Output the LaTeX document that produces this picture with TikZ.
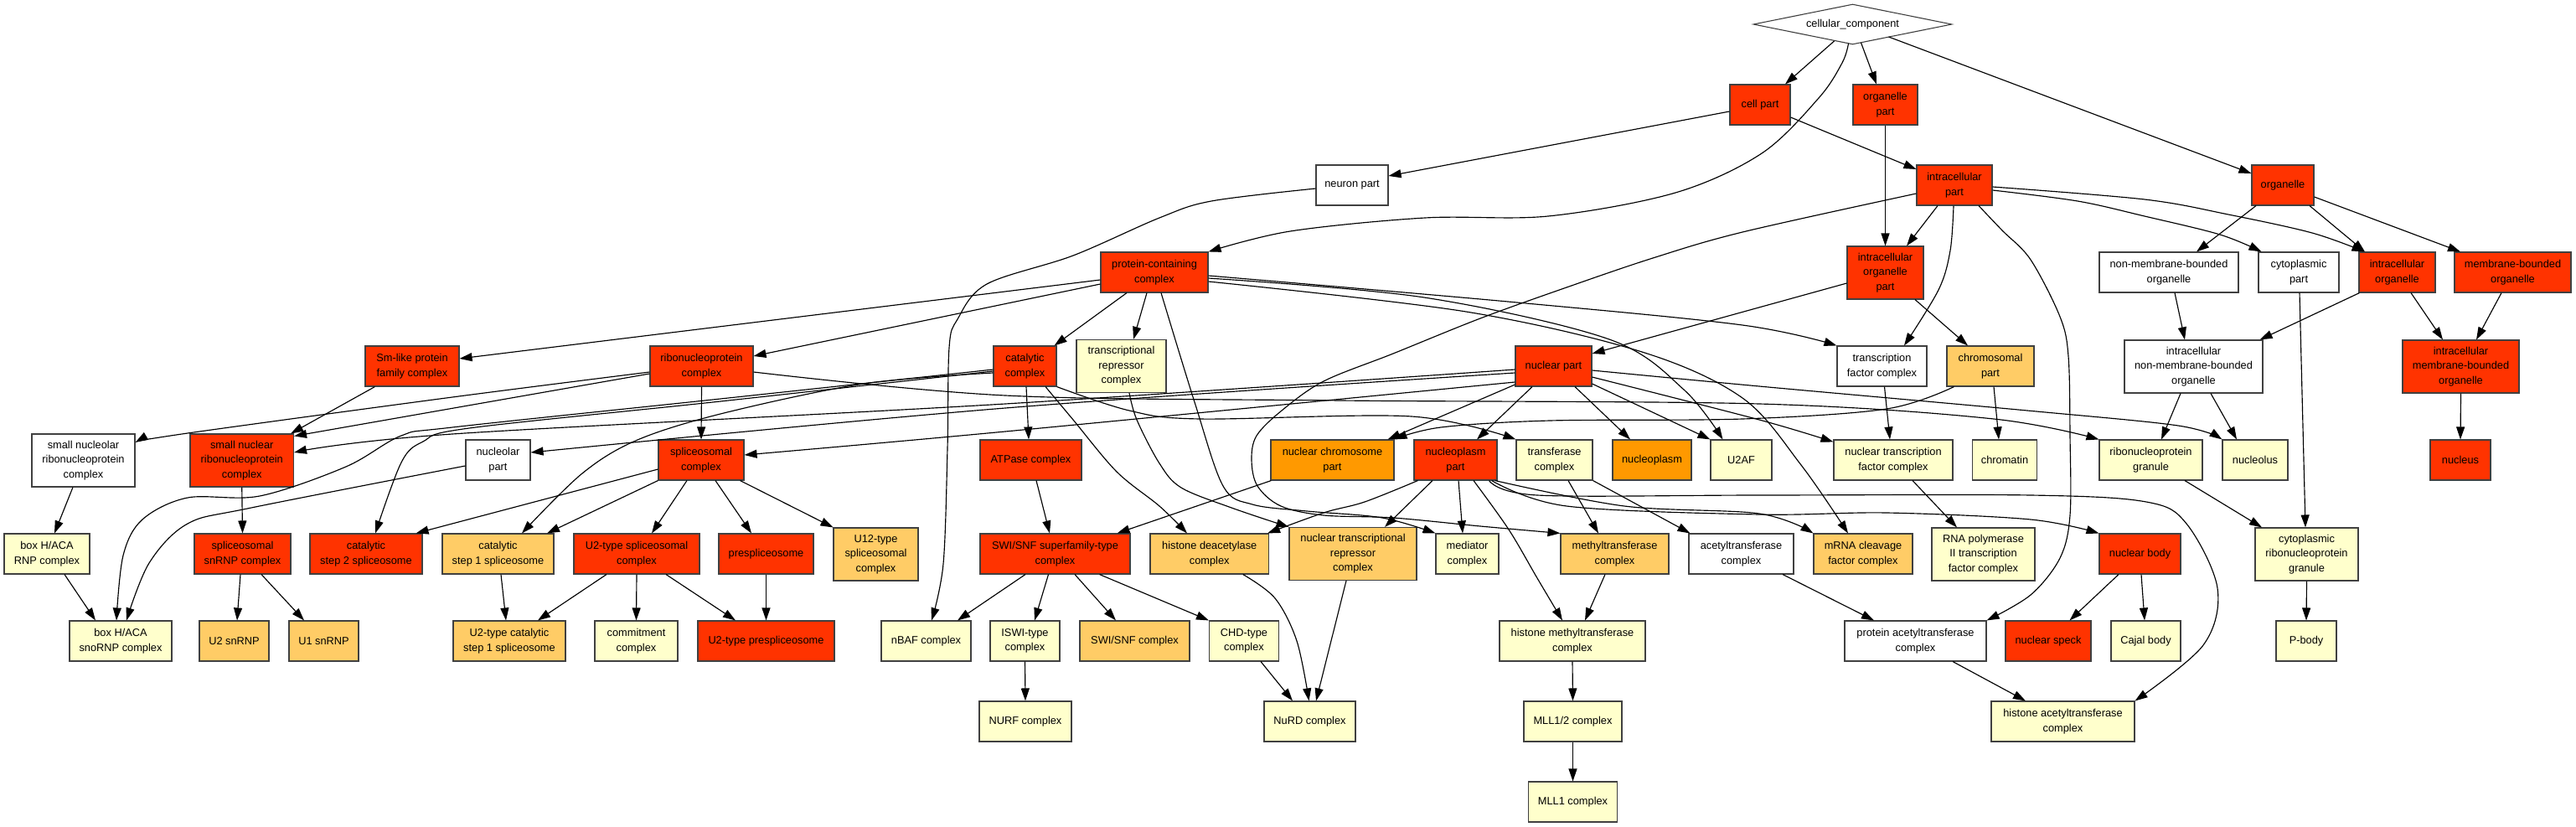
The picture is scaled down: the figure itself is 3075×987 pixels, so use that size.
\documentclass[tikz,border=0pt]{standalone}
\usepackage{fontspec}
\setmainfont{Liberation Sans}
\usetikzlibrary{shapes.geometric,arrows.meta}
\definecolor{cR}{HTML}{FF3300}
\definecolor{cO}{HTML}{FF9900}
\definecolor{cL}{HTML}{FFCC66}
\definecolor{cY}{HTML}{FFFFCC}
\begin{document}
\begin{tikzpicture}[x=1pt,y=-1pt,
  box/.style={draw=black!75, line width=1.1pt, inner sep=0pt, align=center, font=\fontsize{12.8}{17.5}\selectfont, minimum height=48pt},
  fr/.style={box, fill=cR}, fo/.style={box, fill=cO}, fl/.style={box, fill=cL},
  fy/.style={box, fill=cY}, fw/.style={box, fill=white},
  tall/.style={minimum height=63pt},
  edge/.style={line width=1.15pt, -{Triangle[length=15pt,width=10pt]}},
  sm/.style={smooth, tension=0.55}]
\useasboundingbox (0,0) rectangle (3075,987);
\fill[white] (0,0) rectangle (3075,987);
% row 0
\node[draw=black!75, line width=1.1pt, fill=white, diamond, aspect=4.9, inner sep=0pt, minimum width=237pt, minimum height=48pt, font=\fontsize{12.8}{17.5}\selectfont] (cc) at (2211.5,29) {cellular\_component};
% row 1
\node[fr, minimum width=72pt] (cp) at (2101,125) {cell part};
\node[fr, minimum width=77pt] (op) at (2250.5,125) {organelle\\part};
% row 2
\node[fw, minimum width=86pt] (np) at (1614,221) {neuron part};
\node[fr, minimum width=90pt] (icp) at (2333,221) {intracellular\\part};
\node[fr, minimum width=74pt] (org) at (2725,221) {organelle};
% row 3
\node[fr, minimum width=128pt] (pcc) at (1378,325) {protein-containing\\complex};
\node[fr, tall, minimum width=91pt] (iop) at (2250.5,325.5) {intracellular\\organelle\\part};
\node[fw, minimum width=166pt] (nmbo) at (2589,325) {non-membrane-bounded\\organelle};
\node[fw, minimum width=96pt] (cytp) at (2744,325) {cytoplasmic\\part};
\node[fr, minimum width=91pt] (io) at (2861.5,325) {intracellular\\organelle};
\node[fr, minimum width=139pt] (mbo) at (2999.5,325) {membrane-bounded\\organelle};
% row 4
\node[fr, minimum width=112pt] (sml) at (492,437) {Sm-like protein\\family complex};
\node[fr, minimum width=123pt] (rnp) at (837.5,437) {ribonucleoprotein\\complex};
\node[fr, minimum width=75pt] (catc) at (1223.5,437) {catalytic\\complex};
\node[fy, tall, minimum width=107pt] (trc) at (1338.5,437) {transcriptional\\repressor\\complex};
\node[fr, minimum width=91pt] (nucp) at (1854.5,437) {nuclear part};
\node[fw, minimum width=107pt] (tfc) at (2246.5,437) {transcription\\factor complex};
\node[fl, minimum width=104pt] (chrp) at (2376,437) {chromosomal\\part};
\node[fw, tall, minimum width=165pt] (inmbo) at (2618.5,437.5) {intracellular\\non-membrane-bounded\\organelle};
\node[fr, tall, minimum width=139pt] (imbo) at (2937.5,437.5) {intracellular\\membrane-bounded\\organelle};
% row 5
\node[fw, tall, minimum width=123pt] (snorc) at (99.5,549.5) {small nucleolar\\ribonucleoprotein\\complex};
\node[fr, tall, minimum width=123.5pt] (snrnp) at (288.75,549.5) {small nuclear\\ribonucleoprotein\\complex};
\node[fw, minimum width=77pt] (nolp) at (594.5,549) {nucleolar\\part};
\node[fr, minimum width=102pt] (splc) at (837,549) {spliceosomal\\complex};
\node[fr, minimum width=121pt] (atp) at (1230.5,549) {ATPase complex};
\node[fo, minimum width=147pt] (ncp) at (1590.5,549) {nuclear chromosome\\part};
\node[fr, minimum width=99pt] (nplp) at (1737.5,549) {nucleoplasm\\part};
\node[fy, minimum width=91pt] (trfc) at (1855.5,549) {transferase\\complex};
\node[fo, minimum width=94pt] (npl) at (1972,549) {nucleoplasm};
\node[fy, minimum width=73pt] (u2af) at (2078.5,549) {U2AF};
\node[fy, minimum width=142pt] (ntfc) at (2260,549) {nuclear transcription\\factor complex};
\node[fy, minimum width=77.5pt] (chromatin) at (2393,549) {chromatin};
\node[fy, minimum width=123pt] (rnpg) at (2567.5,549) {ribonucleoprotein\\granule};
\node[fy, minimum width=78pt] (nol) at (2692,549) {nucleolus};
\node[fr, minimum width=72pt] (nuc) at (2937,549) {nucleus};
% row 6
\node[fy, minimum width=102pt] (haca) at (56,661) {box H/ACA\\RNP complex};
\node[fr, minimum width=115pt] (ssnrnp) at (289.5,661) {spliceosomal\\snRNP complex};
\node[fr, minimum width=134pt] (cs2) at (437,661) {catalytic\\step 2 spliceosome};
\node[fl, minimum width=133pt] (cs1) at (594.5,661) {catalytic\\step 1 spliceosome};
\node[fr, minimum width=150pt] (u2sc) at (760,661) {U2-type spliceosomal\\complex};
\node[fr, minimum width=113pt] (presp) at (914.5,661) {prespliceosome};
\node[fl, tall, minimum width=101pt] (u12) at (1045.5,661.5) {U12-type\\spliceosomal\\complex};
\node[fr, minimum width=179pt] (swisf) at (1259.5,661) {SWI/SNF superfamily-type\\complex};
\node[fl, minimum width=141.5pt] (hdac) at (1443.75,661) {histone deacetylase\\complex};
\node[fl, tall, minimum width=152pt] (ntrc) at (1615,661) {nuclear transcriptional\\repressor\\complex};
\node[fy, minimum width=75pt] (med) at (1751.5,661) {mediator\\complex};
\node[fl, minimum width=129pt] (mtc) at (1927.5,661) {methyltransferase\\complex};
\node[fw, minimum width=125pt] (atc) at (2078.5,661) {acetyltransferase\\complex};
\node[fl, minimum width=118pt] (mrna) at (2224,661) {mRNA cleavage\\factor complex};
\node[fy, tall, minimum width=123pt] (rnap) at (2367.5,661.5) {RNA polymerase\\II transcription\\factor complex};
\node[fr, minimum width=97pt] (nb) at (2554.5,661) {nuclear body};
\node[fy, tall, minimum width=123pt] (crnpg) at (2753.5,661.5) {cytoplasmic\\ribonucleoprotein\\granule};
% row 7
\node[fy, minimum width=122pt] (hacasno) at (144,765) {box H/ACA\\snoRNP complex};
\node[fl, minimum width=83pt] (u2snrnp) at (279.5,765) {U2 snRNP};
\node[fl, minimum width=83pt] (u1snrnp) at (386.5,765) {U1 snRNP};
\node[fl, minimum width=134pt] (u2cs1) at (608,765) {U2-type catalytic\\step 1 spliceosome};
\node[fy, minimum width=99pt] (commit) at (759.5,765) {commitment\\complex};
\node[fr, minimum width=163pt] (u2presp) at (914.5,765) {U2-type prespliceosome};
\node[fy, minimum width=107pt] (nbaf) at (1105.5,765) {nBAF complex};
\node[fy, minimum width=83pt] (iswi) at (1223.5,765) {ISWI-type\\complex};
\node[fl, minimum width=131pt] (swisnf) at (1354.5,765) {SWI/SNF complex};
\node[fy, minimum width=83pt] (chd) at (1485,765) {CHD-type\\complex};
\node[fy, minimum width=174pt] (hmtc) at (1877,765) {histone methyltransferase\\complex};
\node[fw, minimum width=169pt] (pat) at (2286.5,765) {protein acetyltransferase\\complex};
\node[fr, minimum width=102pt] (speck) at (2445,765) {nuclear speck};
\node[fy, minimum width=83pt] (cajal) at (2561.5,765) {Cajal body};
\node[fy, minimum width=72pt] (pbody) at (2753,765) {P-body};
% row 8
\node[fy, minimum width=110pt] (nurf) at (1224,861) {NURF complex};
\node[fy, minimum width=109pt] (nurd) at (1563.5,861) {NuRD complex};
\node[fy, minimum width=117pt] (mll12) at (1877.5,861) {MLL1/2 complex};
\node[fy, minimum width=171pt] (hat) at (2462.5,861) {histone acetyltransferase\\complex};
% row 9
\node[fy, minimum width=106pt] (mll1) at (1877.5,957) {MLL1 complex};

% edges
\draw[edge] ([xshift=-22pt,yshift=-20pt]cc.center) -- ([xshift=30pt]cp.north);
\draw[edge] ([xshift=10pt,yshift=-22pt]cc.center) -- ([xshift=-10.5pt]op.north);
\draw[edge] ([xshift=43pt,yshift=-15pt]cc.center) -- ([yshift=14pt]org.west);
\draw[edge] plot[sm] coordinates {([xshift=-5pt,yshift=-23pt]cc.center) (2199,75) (2171,117) (2103,183) (2000,230) (1848,258) (1701,260) (1540,276) (pcc.north east)};
\draw[edge] ([yshift=-8pt]cp.west) -- ([yshift=11pt]np.east);
\draw[edge] ([yshift=-15pt]cp.east) -- ([yshift=19pt]icp.west);
\draw[edge] (op.south) -- (iop.north);
\draw[edge] ([xshift=-20pt]icp.south) -- ([xshift=25.5pt]iop.north);
\draw[edge] plot[sm] coordinates {([xshift=-1pt]icp.south) (2328,299) (2314,346) ([xshift=26.5pt]tfc.north)};
\draw[edge] plot[sm] coordinates {([xshift=29pt]icp.south) (2390,275) (2424,310) (2459,378) (2469,425) (2471,520) (2471,615) (2459,666) (2424,710) (pat.north east)};
\draw[edge] ([yshift=-12.5pt]iop.west) -- ([yshift=15pt]nucp.east);
\draw[edge] plot[sm] coordinates {([yshift=-6pt]icp.east) (2480,240) (2560,258) (2650,280) ([xshift=4pt]cytp.north west)};
\draw[edge] plot[sm] coordinates {([yshift=-2pt]icp.east) (2560,238) (2660,256) (2760,278) ([xshift=7pt]io.north west)};
\draw[edge] ([xshift=-32pt]org.south) -- ([xshift=33pt]nmbo.north);
\draw[edge] ([xshift=32pt]org.south) -- ([xshift=-38.5pt]io.north);
\draw[edge] ([yshift=-14pt]org.east) -- ([xshift=-62.5pt]mbo.north);
\draw[edge] ([xshift=35.5pt]iop.south) -- ([xshift=-27pt]chrp.north);
\draw[edge] ([yshift=-9pt]pcc.west) -- ([yshift=9pt]sml.east);
\draw[edge] ([yshift=-14pt]pcc.west) -- ([yshift=12pt]rnp.east);
\draw[edge] ([xshift=-33pt]pcc.south) -- ([xshift=-3pt]catc.north east);
\draw[edge] ([xshift=-9pt]pcc.south) -- ([xshift=14.5pt]trc.north);
\draw[edge] plot[sm] coordinates {([xshift=8pt]pcc.south) (1426,480) (1460,580) (1495,602) (1560,610) (1650,618) (med.north west)};
\draw[edge] plot[sm] coordinates {([yshift=-4pt]pcc.east) (1800,360) (2080,388) (tfc.north west)};
\draw[edge] plot[sm] coordinates {([yshift=-7pt]pcc.east) (1700,355) (1921,405) (2010,465) ([xshift=15pt]u2af.north west)};
\draw[edge] plot[sm] coordinates {([yshift=-11pt]pcc.east) (1750,372) (1960,420) (2080,475) (2150,555) ([xshift=-18pt]mrna.north)};
\draw[edge] ([xshift=1.5pt]catc.south) -- ([xshift=-2.5pt]atp.north);
\draw[edge] plot[sm] coordinates {([xshift=24.5pt]catc.south) (1281,501) (1333,563) (1384,604) ([xshift=-26.75pt]hdac.north)};
\draw[edge] plot[sm] coordinates {(catc.south east) (1348,490) (1432,500) (1685,497) (trfc.north west)};
\draw[edge] plot[sm] coordinates {([yshift=-4pt]catc.west) (860,476) (540,510) (479,520) (413,557) (310,592) (224,594) (170,620) (147,663) ([xshift=-5pt]hacasno.north)};
\draw[edge] plot[sm] coordinates {([yshift=-6pt]catc.west) (860,479) (560,511) (505,527) (479,552) ([xshift=11pt]cs2.north)};
\draw[edge] plot[sm] coordinates {([yshift=-8pt]catc.west) (1031,458) (864,493) (761,525) (695,565) ([xshift=28.5pt]cs1.north)};
\draw[edge] plot[sm] coordinates {([xshift=9.5pt]trc.south) (1357,501) (1384,553) (1410,582) (1470,606) (ntrc.north west)};
\draw[edge] ([yshift=-22pt]nucp.west) -- ([xshift=-8pt]ncp.north east);
\draw[edge] ([xshift=-25.5pt]nucp.south) -- ([xshift=25.5pt]nplp.north);
\draw[edge] ([xshift=25.5pt]nucp.south) -- ([xshift=-26pt]npl.north);
\draw[edge] ([yshift=-21pt]nucp.east) -- (u2af.north west);
\draw[edge] plot[sm] coordinates {([yshift=-13pt]nucp.east) (2100,501) ([yshift=-3pt]ntfc.north west)};
\draw[edge] plot[sm] coordinates {([yshift=-5pt]nucp.east) (2100,461) (2420,490) (2600,508) (nol.north west)};
\draw[edge] plot[sm] coordinates {([yshift=-4pt]nucp.west) (1200,482) (540,518) ([yshift=9.5pt]snrnp.east)};
\draw[edge] plot[sm] coordinates {([yshift=-8pt]nucp.west) (1200,487) ([yshift=9pt]nolp.east)};
\draw[edge] plot[sm] coordinates {([yshift=-19pt]nucp.west) (1200,515) ([yshift=6pt]splc.east)};
\draw[edge] ([xshift=1pt]ncp.south west) -- ([xshift=-16pt]swisf.north east);
\draw[edge] plot[sm] coordinates {([xshift=9pt]chrp.south west) (2252,488) (2080,500) (1850,502) (1720,510) (ncp.north east)};
\draw[edge] plot[sm] coordinates {([xshift=5pt]nplp.south west) (1629,599) (1580,612) ([xshift=-2pt]hdac.north east)};
\draw[edge] ([xshift=-27.5pt]nplp.south) -- ([xshift=38pt]ntrc.north);
\draw[edge] ([xshift=3.5pt]nplp.south) -- ([xshift=-5.5pt]med.north);
\draw[edge] plot[sm] coordinates {([xshift=21.5pt]nplp.south) (1801,632) (1835,690) ([xshift=-12pt]hmtc.north)};
\draw[edge] plot[sm] coordinates {([xshift=-3pt]nplp.south east) (1939,604) (2100,613) (mrna.north west)};
\draw[edge] plot[sm] coordinates {([xshift=-7pt]nplp.south east) (1870,604) (2100,614) (2252,612) (2424,620) (nb.north west)};
\draw[edge] plot[sm] coordinates {([xshift=-10pt]nplp.south east) (1835,591) (2100,591) (2424,591) (2562,599) (2610,625) (2647,702) (2630,770) (hat.north east)};
\draw[edge] ([xshift=16.5pt]trfc.south) -- ([xshift=-19.5pt]mtc.north);
\draw[edge] (trfc.south east) -- ([xshift=2pt]atc.north west);
\draw[edge] plot[sm] coordinates {([yshift=-10pt]icp.west) (2080,277) (1973,308) (1870,343) (1767,380) (1663,422) (1580,455) (1530,490) (1500,520) (1494,549) (1501,580) (1529,604) (1580,615) (1663,618) (1767,628) (mtc.north west)};
\draw[edge] ([xshift=-11.5pt]mtc.south) -- ([xshift=15pt]hmtc.north);
\draw[edge] (hmtc.south) -- (mll12.north);
\draw[edge] (mll12.south) -- (mll1.north);
\draw[edge] ([xshift=49.5pt]atc.south) -- ([xshift=-49.5pt]pat.north);
\draw[edge] ([xshift=44.5pt]pat.south) -- ([xshift=-44.5pt]hat.north);
\draw[edge] ([xshift=-25.5pt]nb.south) -- ([xshift=25.5pt]speck.north);
\draw[edge] ([xshift=1.5pt]nb.south) -- ([xshift=-1.5pt]cajal.north);
\draw[edge] ([xshift=23pt]ntfc.south) -- ([xshift=-31.5pt]rnap.north);
\draw[edge] ([xshift=3pt]tfc.south) -- ([xshift=-4pt]ntfc.north);
\draw[edge] ([xshift=4pt]chrp.south) -- ([xshift=-7pt]chromatin.north);
\draw[edge] ([xshift=7pt]nmbo.south) -- ([xshift=-10.5pt]inmbo.north);
\draw[edge] ([xshift=1pt]io.south west) -- ([xshift=-4pt]inmbo.north east);
\draw[edge] ([xshift=16.5pt]io.south) -- ([xshift=-21.5pt]imbo.north);
\draw[edge] ([xshift=-13.5pt]mbo.south) -- ([xshift=18.5pt]imbo.north);
\draw[edge] (imbo.south) -- (nuc.north);
\draw[edge] ([xshift=-15.5pt]inmbo.south) -- ([xshift=12.5pt]rnpg.north);
\draw[edge] ([xshift=20.5pt]inmbo.south) -- ([xshift=-22pt]nol.north);
\draw[edge] ([xshift=40.5pt]rnpg.south) -- ([xshift=-53.5pt]crnpg.north);
\draw[edge] ([xshift=1pt]cytp.south) -- ([xshift=-1.5pt]crnpg.north);
\draw[edge] (crnpg.south) -- (pbody.north);
\draw[edge] plot[sm] coordinates {([yshift=-7pt]rnp.east) (1200,472) (1600,478) (2100,482) (2380,500) (rnpg.north west)};
\draw[edge] (rnp.south) -- (splc.north);
\draw[edge] plot[sm] coordinates {([yshift=-7pt]rnp.west) (540,474) (224,517) ([yshift=21.5pt]snorc.east)};
\draw[edge] ([yshift=-9pt]rnp.west) -- ([yshift=-3pt]snrnp.north east);
\draw[edge] ([xshift=12pt]sml.south west) -- ([xshift=-4pt]snrnp.north east);
\draw[edge] ([xshift=-12.5pt]snorc.south) -- ([xshift=9pt]haca.north);
\draw[edge] ([xshift=21pt]haca.south) -- ([xshift=-30pt]hacasno.north);
\draw[edge] plot[sm] coordinates {([yshift=-7pt]nolp.west) (300,606) (224,625) (178,672) ([xshift=7pt]hacasno.north)};
\draw[edge] (snrnp.south) -- (ssnrnp.north);
\draw[edge] ([xshift=-2.5pt]ssnrnp.south) -- ([xshift=3.5pt]u2snrnp.north);
\draw[edge] ([xshift=22.5pt]ssnrnp.south) -- ([xshift=-23.5pt]u1snrnp.north);
\draw[edge] ([yshift=-11pt]splc.west) -- ([xshift=-8pt]cs2.north east);
\draw[edge] (splc.south west) -- ([xshift=58.5pt]cs1.north);
\draw[edge] ([xshift=-17pt]splc.south) -- ([xshift=18pt]u2sc.north);
\draw[edge] ([xshift=17pt]splc.south) -- ([xshift=-17.5pt]presp.north);
\draw[edge] ([xshift=-5pt]splc.south east) -- (u12.north west);
\draw[edge] ([xshift=3.5pt]cs1.south) -- ([xshift=-4pt]u2cs1.north);
\draw[edge] ([xshift=-36pt]u2sc.south) -- ([xshift=34pt]u2cs1.north);
\draw[edge] (u2sc.south) -- (commit.north);
\draw[edge] ([xshift=35pt]u2sc.south) -- ([xshift=-36.5pt]u2presp.north);
\draw[edge] (presp.south) -- (u2presp.north);
\draw[edge] ([xshift=6.5pt]atp.south) -- ([xshift=-6.5pt]swisf.north);
\draw[edge] ([xshift=-35.5pt]swisf.south) -- ([xshift=37.5pt]nbaf.north);
\draw[edge] ([xshift=-8pt]swisf.south) -- ([xshift=11.5pt]iswi.north);
\draw[edge] ([xshift=23.5pt]swisf.south) -- ([xshift=-22.5pt]swisnf.north);
\draw[edge] ([xshift=53pt]swisf.south) -- (chd.north west);
\draw[edge] plot[sm] coordinates {([yshift=-4pt]np.west) (1446,240) (1384,260) (1281,305) (1178,339) (1143,381) (1133,415) (1131,535) (1126,673) ([xshift=6.5pt]nbaf.north)};
\draw[edge] (iswi.south) -- (nurf.north);
\draw[edge] ([xshift=20pt]chd.south) -- ([xshift=-20.5pt]nurd.north);
\draw[edge] plot[sm] coordinates {([xshift=40pt]hdac.south) (1522,714) (1548,765) ([xshift=-1pt]nurd.north)};
\draw[edge] ([xshift=-8pt]ntrc.south) -- ([xshift=7.5pt]nurd.north);
\end{tikzpicture}
\end{document}
